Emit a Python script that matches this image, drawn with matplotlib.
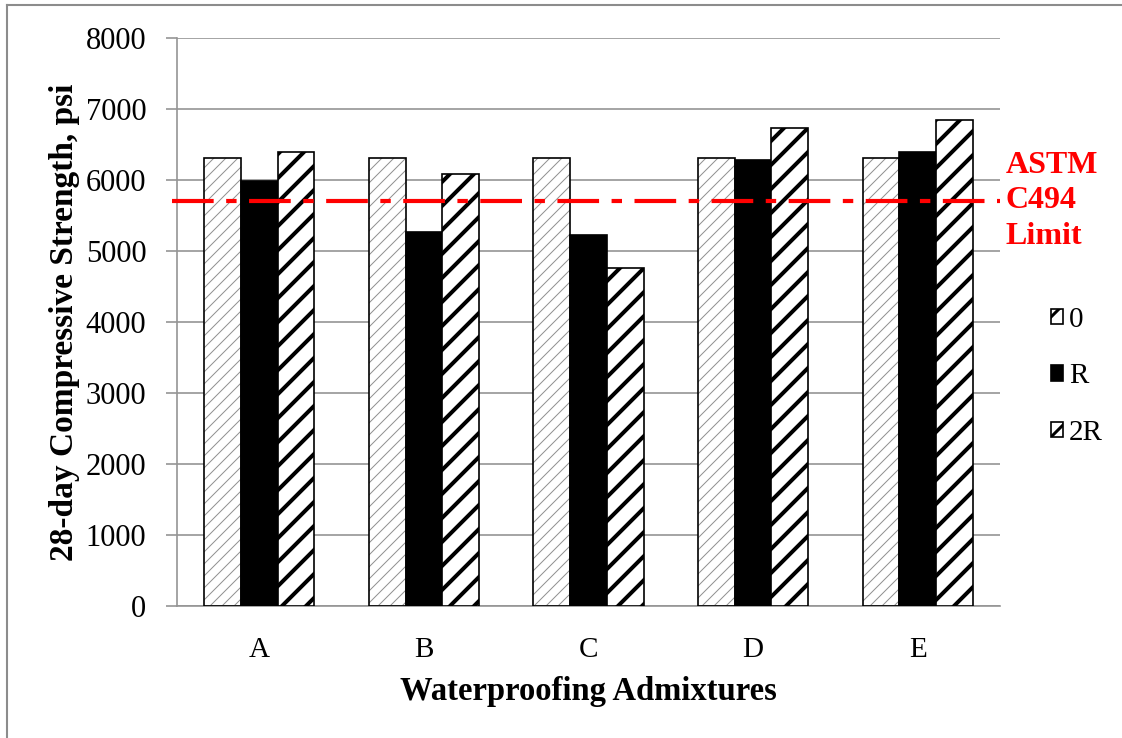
import numpy as np
import matplotlib
matplotlib.use('Agg')
import matplotlib.pyplot as plt
from matplotlib.lines import Line2D
from matplotlib.patches import Patch

plt.rcParams['font.family'] = ['Liberation Serif', 'DejaVu Serif']

# data
admixtures = ['A', 'B', 'C', 'D', 'E']
dose_labels = ['0', 'R', '2R']
strength_0 = [6310, 6310, 6310, 6310, 6310]
strength_R = [5990, 5265, 5225, 6285, 6395]
strength_2R = [6390, 6080, 4760, 6730, 6840]
astm_limit = 5700
y_ticks = [0, 1000, 2000, 3000, 4000, 5000, 6000, 7000, 8000]

# draw at 72 dpi so the hatch cell is 72 px (denser stripes); S rescales sizes
DPI = 72
S = 100 / DPI

fig = plt.figure(figsize=(1122 / DPI, 738 / DPI), dpi=DPI)
ax = fig.add_axes([0.1578, 0.1789, 0.7335, 0.7696])

x = np.arange(len(admixtures))
w = 0.223

# control bars: light hatch, then a black outline on top
plt.rcParams['hatch.linewidth'] = 1.0
ax.bar(x - w, strength_0, w, color='white', edgecolor='#909090', hatch='//',
       linewidth=0, zorder=2)
h0 = Patch(facecolor='white', edgecolor='black', hatch='/', linewidth=1.2 * S)
ax.bar(x - w, strength_0, w, color='none', edgecolor='black', linewidth=1.2 * S, zorder=3)
ax.bar(x, strength_R, w, color='black', edgecolor='black', linewidth=1.2 * S, zorder=3)
plt.rcParams['hatch.linewidth'] = 4.0
ax.bar(x + w, strength_2R, w, color='white', edgecolor='black', hatch='/',
       linewidth=1.2 * S, zorder=3)
plt.rcParams['hatch.linewidth'] = 3.0
h2 = Patch(facecolor='white', edgecolor='black', hatch='/', linewidth=1.2 * S)
hR = Patch(facecolor='black', edgecolor='black', linewidth=1.2 * S)

ax.axhline(astm_limit, color='#FF0000', linewidth=3 * S, linestyle=(0, (10, 3, 2.5, 3)),
           zorder=4, clip_on=False, xmin=-0.006, xmax=1.0)

ax.set_xlim(-0.5, len(admixtures) - 0.5)
ax.set_ylim(0, 8000)
ax.set_yticks(y_ticks)
ax.set_xticks(x)
ax.set_xticklabels(admixtures)
ax.grid(axis='y', color='#959595', linewidth=1.2 * S, zorder=0)
ax.set_axisbelow(True)
for s in ['top', 'right']:
    ax.spines[s].set_visible(False)
for s in ['left', 'bottom']:
    ax.spines[s].set_color('#959595')
    ax.spines[s].set_linewidth(1.2 * S)
ax.tick_params(axis='y', labelsize=22 * S, length=8 * S, color='#959595',
               width=1.2 * S, pad=14 * S)
ax.tick_params(axis='x', labelsize=21 * S, length=0, pad=22 * S)

ax.set_xlabel('Waterproofing Admixtures', fontsize=23.5 * S, fontweight='bold',
              labelpad=10 * S)
ax.set_ylabel('28-day Compressive Strength, psi', fontsize=24 * S, fontweight='bold',
              labelpad=4 * S)

fig.text(0.8965, 0.728, 'ASTM\nC494\nLimit', color='#FF0000', fontsize=23 * S,
         fontweight='bold', ha='left', va='center', multialignment='left',
         linespacing=1.3)

fig.legend([h0, hR, h2], dose_labels, loc='center left', bbox_to_anchor=(0.926, 0.49),
           frameon=False, fontsize=21 * S, handlelength=0.42, handleheight=0.42,
           handletextpad=0.2, labelspacing=1.05, borderaxespad=0)

# outer frame lines (top and left only visible)
fig.add_artist(Line2D([0.006, 0.006], [0, 0.993], color='#8c8c8c', lw=1.5 * S,
                      transform=fig.transFigure))
fig.add_artist(Line2D([0.006, 1.0], [0.993, 0.993], color='#8c8c8c', lw=1.5 * S,
                      transform=fig.transFigure))

fig.savefig('out.png', dpi=DPI)
